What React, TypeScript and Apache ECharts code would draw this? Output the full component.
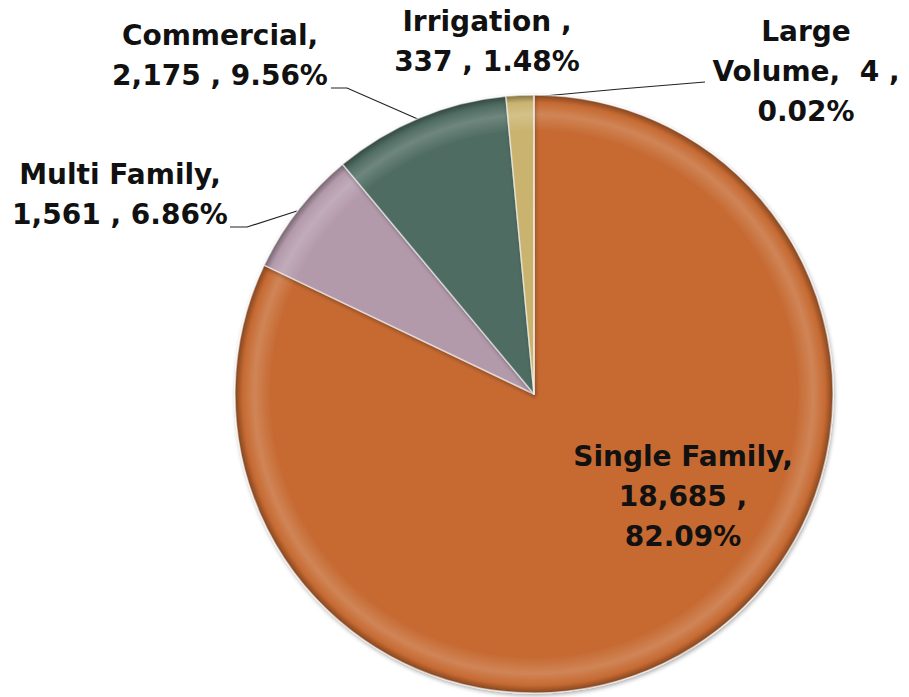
import React, { useEffect, useRef } from "react";
import * as echarts from "echarts";

const categories = ["Single Family", "Multi Family", "Commercial", "Irrigation", "Large Volume"];
const values = [18685, 1561, 2175, 337, 4];
const colors = ["#C66A32", "#B39AAB", "#4F6C62", "#C9B36E", "#8C6D46"];
// label text templates: {n}=name, {v}=value, {p}=percent
const labelTemplates = [
  "{n},\n{v} ,\n{p}%",
  "{n},\n{v} , {p}%",
  "{n},\n{v} , {p}%",
  "{n} ,\n{v} , {p}%",
  "Large\nVolume,  {v} ,\n{p}%",
];

const CX = 534;
const CY = 394;
const R = 299;

const labelCenters = [
  [683, 496],
  [120, 194],
  [220, 55],
  [487, 41],
  [806, 71],
];
const leaderLines: (number[][] | null)[] = [
  null,
  [[297, 211], [247, 227], [230, 227]],
  [[420, 120], [347, 88], [331, 88]],
  null,
  [[533, 97], [620, 89], [705, 82]],
];

function shade(hex: string, f: number) {
  const n = parseInt(hex.slice(1), 16);
  let r = (n >> 16) & 255, g = (n >> 8) & 255, b = n & 255;
  const t = f < 0 ? 0 : 255;
  const p = Math.abs(f);
  r = Math.round(r + (t - r) * p);
  g = Math.round(g + (t - g) * p);
  b = Math.round(b + (t - b) * p);
  return `rgb(${r},${g},${b})`;
}

function fill(c: string) {
  return {
    type: "radial",
    x: CX,
    y: CY,
    r: R,
    global: true,
    colorStops: [
      { offset: 0, color: c },
      { offset: 0.88, color: c },
      { offset: 0.935, color: shade(c, 0.18) },
      { offset: 0.975, color: c },
      { offset: 1, color: shade(c, -0.35) },
    ],
  };
}

export default function App() {
  const ref = useRef<HTMLDivElement>(null);
  useEffect(() => {
    if (!ref.current) return;
    const chart = echarts.init(ref.current, null, { renderer: "svg" });
    const total = values.reduce((a, b) => a + b, 0);
    chart.setOption({
      animation: false,
      backgroundColor: "#ffffff",
      series: [
        {
          type: "pie",
          center: [CX, CY],
          radius: R,
          startAngle: 90,
          clockwise: true,
          avoidLabelOverlap: false,
          itemStyle: {
            borderColor: "rgba(255,255,255,0.55)",
            borderWidth: 1.5,
            shadowBlur: 4,
            shadowOffsetX: 1,
            shadowOffsetY: 2,
            shadowColor: "rgba(0,0,0,0.35)",
          },
          label: {
            show: true,
            position: "outside",
            fontFamily: "DejaVu Sans",
            fontWeight: "bold",
            fontSize: 28,
            lineHeight: 40,
            color: "#111111",
            align: "center",
            formatter: (p: any) => {
              const pct = ((p.value / total) * 100).toFixed(2);
              return labelTemplates[p.dataIndex]
                .replace("{n}", p.name)
                .replace("{v}", Number(p.value).toLocaleString("en-US"))
                .replace("{p}", pct);
            },
          },
          labelLine: {
            show: true,
            length: 10,
            length2: 10,
            lineStyle: { color: "#222222", width: 1.2 },
          },
          labelLayout: (params: any) => {
            const i = params.dataIndex;
            const c = labelCenters[i];
            const out: any = { x: c[0], y: c[1], align: "center", verticalAlign: "middle" };
            if (leaderLines[i]) out.labelLinePoints = leaderLines[i];
            return out;
          },
          data: categories.map((name, i) => ({
            name,
            value: values[i],
            itemStyle: { color: fill(colors[i]) },
            labelLine: { show: leaderLines[i] !== null },
          })),
        },
      ],
    });
    return () => chart.dispose();
  }, []);
  return (
    <div
      ref={ref}
      style={{ position: "fixed", left: 0, top: 0, width: 909, height: 697 }}
    />
  );
}
